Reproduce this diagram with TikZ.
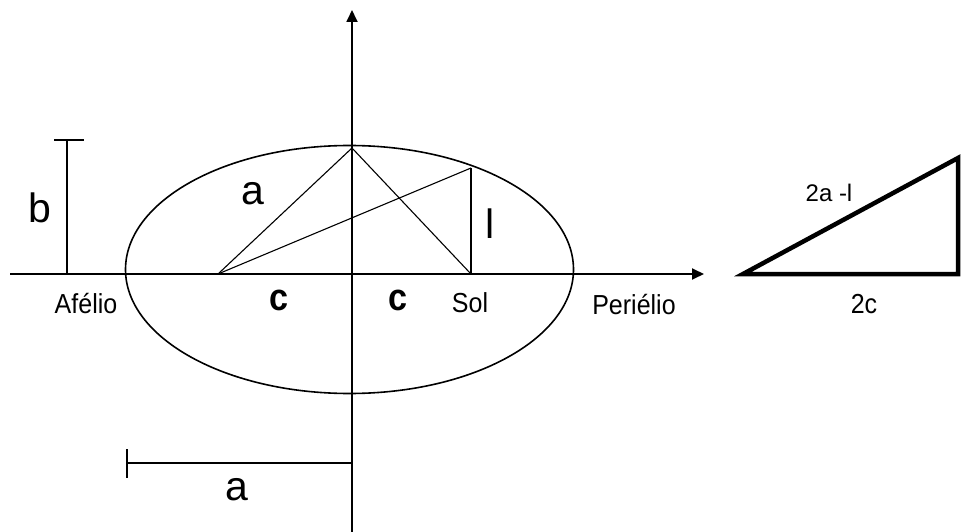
\documentclass[tikz,border=0pt]{standalone}
\usepackage{fontspec}
\setmainfont{Liberation Sans}
\usetikzlibrary{arrows.meta}
\newcommand\ystretch[1]{\scalebox{1}[1.1]{#1}}
\newcommand\cnarrow[1]{\scalebox{0.9}[1]{#1}}
\begin{document}
\begin{tikzpicture}[x=1pt,y=-1pt,
  axis/.style={line width=1.8pt,-{Triangle[length=12pt,width=11pt]}},
  thinline/.style={line width=1.1pt},
  midline/.style={line width=1.6pt},
  biglabel/.style={font=\fontsize{41}{41}\selectfont,inner sep=0pt},
  clabel/.style={font=\fontsize{38}{38}\selectfont\bfseries,inner sep=0pt},
  smalllabel/.style={font=\fontsize{25}{25}\selectfont,inner sep=0pt},
  thick3/.style={line width=4.5pt,line join=miter}]
\useasboundingbox (0,0) rectangle (972,532);
% points
\coordinate (xs) at (10,274);
\coordinate (xe) at (704,274);
\coordinate (ys) at (352,532);
\coordinate (ye) at (352,10);
\coordinate (F) at (218,274);
\coordinate (T) at (352,148);
\coordinate (S) at (471,274);
\coordinate (P) at (471,168);
\coordinate (bb) at (67,274);
\coordinate (bt) at (67,140);
\coordinate (btl) at (54,140);
\coordinate (btr) at (84,140);
\coordinate (al) at (127,463);
\coordinate (ar) at (352,463);
\coordinate (atu) at (127,449);
\coordinate (atd) at (127,478);
\coordinate (A) at (743,274);
\coordinate (B) at (958,274);
\coordinate (C) at (958,158);
% ellipse
\draw[midline] (349.5,269.5) ellipse [x radius=224, y radius=124];
% axes
\draw[axis] (xs) -- (xe);
\draw[axis] (ys) -- (ye);
% inner triangles
\draw[thinline] (F) -- (T) -- (S);
\draw[thinline] (F) -- (P);
\draw[midline] (S) -- (P);
% b bar
\draw[midline] (bb) -- (bt);
\draw[midline] (btl) -- (btr);
% a bar
\draw[midline] (al) -- (ar);
\draw[midline] (atu) -- (atd);
% right triangle
\draw[thick3] (A) -- (B) -- (C) -- cycle;
% labels
\node[biglabel] (lb) at (40,208) {b};
\node[biglabel] (la1) at (253,194) {a};
\node[biglabel] (ll) at (490,224) {l};
\node[clabel] (lc1) at (279,300) {\cnarrow{c}};
\node[clabel] (lc2) at (398,300) {\cnarrow{c}};
\node[biglabel] (la2) at (237,490) {a};
\node[smalllabel] (afe) at (86,304) {\ystretch{Afélio}};
\node[smalllabel] (sol) at (470,303) {\ystretch{Sol}};
\node[smalllabel] (per) at (634,305) {\ystretch{Periélio}};
\node[smalllabel,font=\fontsize{24}{24}\selectfont] (l2a) at (829,193) {2a -l};
\node[smalllabel] (l2c) at (864,304) {\ystretch{2c}};
\end{tikzpicture}
\end{document}
